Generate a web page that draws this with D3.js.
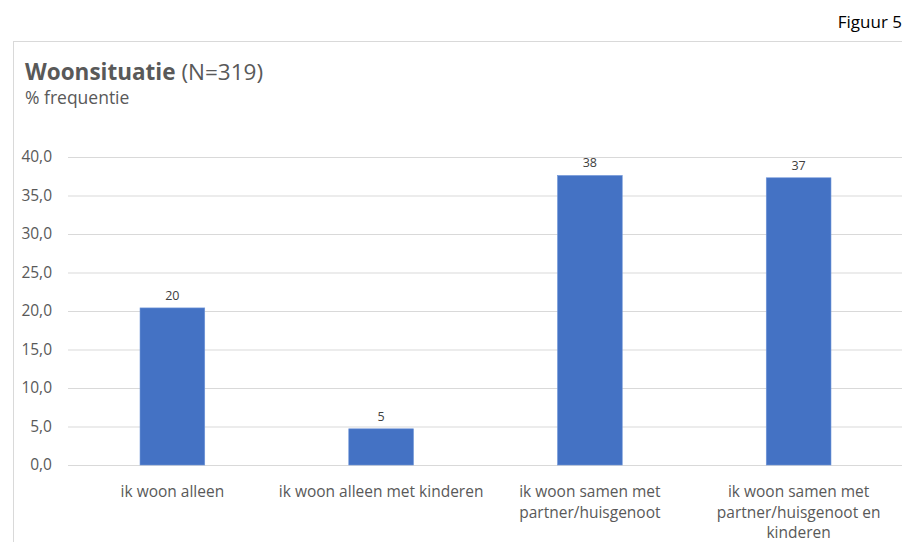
<!DOCTYPE html>
<html>
<head>
<meta charset="utf-8">
<script src="https://cdn.jsdelivr.net/npm/d3@7"></script>
<style>
  html, body { margin: 0; padding: 0; background: #fff; }
  svg { display: block; font-family: "Open Sans", "Noto Sans", sans-serif; }
</style>
</head>
<body>
<svg id="chart" width="902" height="542"></svg>
<script>
// Woonsituatie van respondenten (N=319), percentage per categorie
const categories = [
  ["ik woon alleen"],
  ["ik woon alleen met kinderen"],
  ["ik woon samen met", "partner/huisgenoot"],
  ["ik woon samen met", "partner/huisgenoot en", "kinderen"]
];
const percentages = [20.4, 4.7, 37.6, 37.3];
const yTicks = [0, 5, 10, 15, 20, 25, 30, 35, 40];

const svg = d3.select("#chart");
const W = 902, H = 542;

// figure caption and outer frame
svg.append("text")
  .attr("x", 902).attr("y", 28)
  .attr("text-anchor", "end")
  .attr("font-size", 17).attr("fill", "#000")
  .text("Figuur 5");

svg.append("line")
  .attr("x1", 13).attr("x2", W).attr("y1", 41.5).attr("y2", 41.5)
  .attr("stroke", "#d9d9d9");
svg.append("line")
  .attr("x1", 13.5).attr("x2", 13.5).attr("y1", 41).attr("y2", H)
  .attr("stroke", "#d9d9d9");

// title
const title = svg.append("text")
  .attr("x", 25).attr("y", 80)
  .attr("font-size", 22.5).attr("fill", "#595959");
title.append("tspan").attr("font-weight", "bold").text("Woonsituatie");
title.append("tspan").text(" (N=319)");

svg.append("text")
  .attr("x", 25).attr("y", 104)
  .attr("font-size", 17.5).attr("fill", "#595959")
  .text("% frequentie");

// scales
const x = d3.scaleBand()
  .domain(d3.range(categories.length))
  .range([68, 903])
  .paddingInner(0.69)
  .paddingOuter(0.345);

const y = d3.scaleLinear().domain([0, 40]).range([465, 157]);

// gridlines + tick labels
const yAxis = d3.axisLeft(y)
  .tickValues(yTicks)
  .tickSize(-(W - 68))
  .tickPadding(16)
  .tickFormat(d => d3.format(".1f")(d).replace(".", ","));

const gy = svg.append("g")
  .attr("transform", "translate(68,0)")
  .call(yAxis);
gy.select(".domain").remove();
gy.selectAll(".tick line").attr("stroke", "#d9d9d9").attr("stroke-width", 1.2);
gy.selectAll(".tick text")
  .attr("fill", "#595959")
  .attr("font-size", 15.5)
  .attr("font-family", "Open Sans, sans-serif");

// bars
svg.append("g").selectAll("rect")
  .data(percentages)
  .join("rect")
  .attr("x", (d, i) => x(i))
  .attr("width", x.bandwidth())
  .attr("y", d => y(d))
  .attr("height", d => y(0) - y(d))
  .attr("fill", "#4472c4")
  .attr("stroke", "#6f95d8")
  .attr("stroke-width", 0.6);

// value labels
svg.append("g").selectAll("text")
  .data(percentages)
  .join("text")
  .attr("x", (d, i) => x(i) + x.bandwidth() / 2)
  .attr("y", d => y(d) - 8)
  .attr("text-anchor", "middle")
  .attr("font-size", 12.5)
  .attr("fill", "#404040")
  .text(d => d3.format(".0f")(d));

// category labels
const xl = svg.append("g").selectAll("text")
  .data(categories)
  .join("text")
  .attr("x", (d, i) => x(i) + x.bandwidth() / 2)
  .attr("y", 497)
  .attr("text-anchor", "middle")
  .attr("font-size", 15.5)
  .attr("fill", "#595959");
xl.selectAll("tspan")
  .data(d => d)
  .join("tspan")
  .attr("x", function () { return d3.select(this.parentNode).attr("x"); })
  .attr("dy", (d, i) => i === 0 ? 0 : 20.5)
  .text(d => d);
</script>
</body>
</html>
